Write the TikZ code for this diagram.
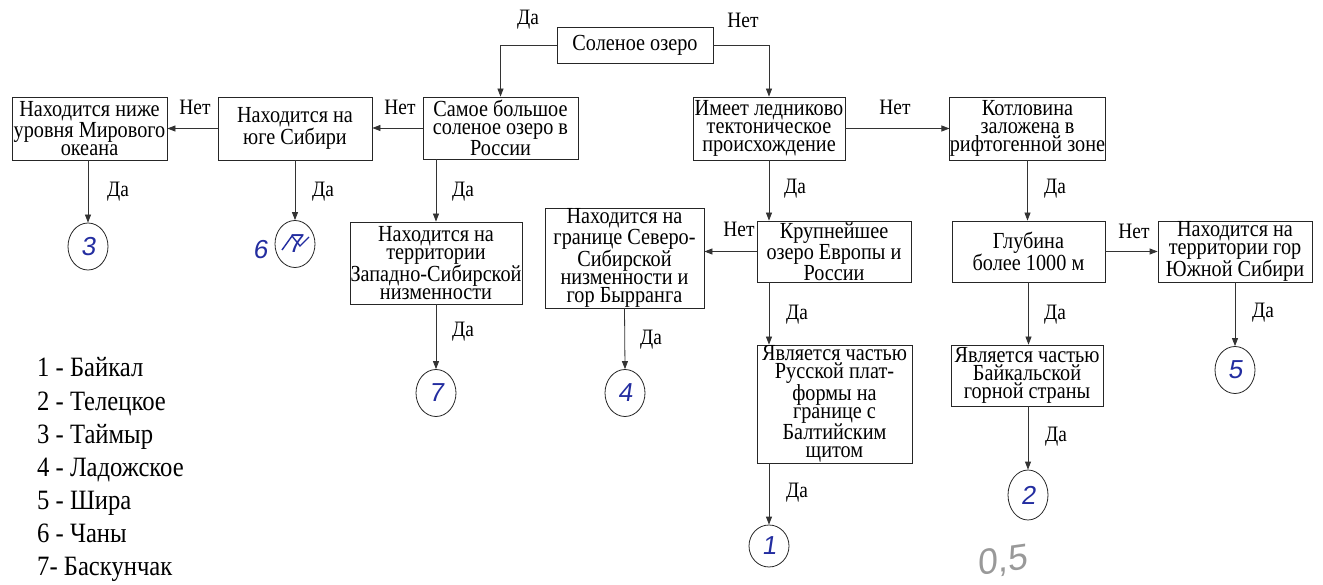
\documentclass[tikz,border=0pt]{standalone}
\usepackage{fontspec}
\setmainfont[FakeStretch=0.88]{Liberation Serif}
\newfontfamily\handfont[FakeSlant=0.15]{Liberation Sans}
\usetikzlibrary{arrows.meta,shapes.geometric}
\definecolor{ink}{RGB}{35,45,160}
\tikzset{
  box/.style={draw=black!85, line width=0.8pt, align=center, inner sep=0pt,
    font=\rmfamily\fontsize{23}{18}\selectfont},
  arr/.style={draw=black!80, line width=0.8pt, -{Triangle[length=8pt,width=6pt]}},
  lbl/.style={font=\rmfamily\fontsize{22}{22}\selectfont, inner sep=0pt},
  circ/.style={ellipse, draw=black!85, line width=0.8pt, minimum width=40pt,
    minimum height=47pt, inner sep=0pt, text=ink, font=\handfont\fontsize{26}{26}\selectfont},
  leg/.style={anchor=base west, inner sep=0pt, font=\rmfamily\fontsize{28}{28}\selectfont}
}
\begin{document}
\begin{tikzpicture}[x=1pt,y=-1pt]
\useasboundingbox (0,0) rectangle (1323,585);
% boxes
\node[box, minimum width=156pt, minimum height=36pt] (salt) at (635,45) {Соленое озеро};
\node[box, minimum width=155pt, minimum height=62pt] (big) at (500.5,128) {Самое большое\\соленое озеро в\\России};
\node[box, minimum width=154pt, minimum height=63pt] (south) at (295,128.5) {Находится на\\юге Сибири};
\node[box, minimum width=155pt, minimum height=63pt] (below) at (89.5,128.5) {Находится ниже\\уровня Мирового\\океана};
\node[box, minimum width=152pt, minimum height=63pt] (glac) at (769,128.5) {Имеет ледниково\\тектоническое\\происхождение};
\node[box, minimum width=155pt, minimum height=63pt] (kotl) at (1027.5,128.5) {Котловина\\заложена в\\рифтогенной зоне};
\node[box, minimum width=172pt, minimum height=82pt] (west) at (436,263) {Находится на\\территории\\Западно-Сибирской\\низменности};
\node[box, minimum width=159pt, minimum height=100pt] (byrr) at (624.5,258) {Находится на\\границе Северо-\\Сибирской\\низменности и\\гор Бырранга};
\node[box, minimum width=154pt, minimum height=61pt] (krup) at (834,251.5) {Крупнейшее\\озеро Европы и\\России};
\node[box, minimum width=153pt, minimum height=61pt] (depth) at (1028.5,251.5) {Глубина\\более 1000 м};
\node[box, minimum width=154pt, minimum height=61pt] (ssib) at (1235,251.5) {Находится на\\территории гор\\Южной Сибири};
\node[box, minimum width=155pt, minimum height=118pt] (rus) at (834.5,404) {Является частью\\Русской плат-\\формы на\\границе с\\Балтийским\\щитом};
\node[box, minimum width=152pt, minimum height=61pt] (baik) at (1027,375.5) {Является частью\\Байкальской\\горной страны};
% answer circles
\node[circ] (c3) at (88,246.5) {3};
\node[circ] (c6) at (295,244) {7};
\node[circ] (c7) at (436,393) {7};
\node[circ] (c4) at (625,393) {4};
\node[circ, minimum height=42pt] (c1) at (769,546) {1};
\node[circ, minimum height=50pt] (c2) at (1028,495) {2};
\node[circ] (c5) at (1235,370) {5};
\node[text=ink, font=\handfont\fontsize{26}{26}\selectfont, inner sep=0pt] (six) at (260,250) {6};
\draw[ink, line width=1.4pt] (282,250) -- (292,236) -- (300,246) -- (309,237);
% connectors
\draw[arr] (salt.west) -| (big.north);
\draw[arr] (salt.east) -| (glac.north);
\draw[arr] (big.west) -- (big.west -| south.east);
\draw[arr] (south.west) -- (south.west -| below.east);
\draw[arr] (c3 |- below.south) -- (c3.north);
\draw[arr] (c6 |- south.south) -- (c6.north);
\draw[arr] (big.south -| west.north) -- (west.north);
\draw[arr] (west.south) -- (c7.north);
\draw[arr] (glac.east) -- (glac.east -| kotl.west);
\draw[arr] (glac.south) -- (glac.south |- krup.north);
\draw[arr] (kotl.south) -- (kotl.south |- depth.north);
\draw[arr] (krup.west) -- (krup.west -| byrr.east);
\draw[arr] (byrr.south) -- (c4.north);
\draw[arr] (krup.south -| glac.south) -- (glac.south |- rus.north);
\draw[arr] (c1 |- rus.south) -- (c1.north);
\draw[arr] (depth.east) -- (depth.east -| ssib.west);
\draw[arr] (depth.south) -- (depth.south |- baik.north);
\draw[arr] (c2 |- baik.south) -- (c2.north);
\draw[arr] (ssib.south) -- (c5.north);
% labels
\node[lbl] (l1) at (528,20) {Да};
\node[lbl] (l2) at (743,20) {Нет};
\node[lbl] (l3) at (400,107) {Нет};
\node[lbl] (l4) at (195,107) {Нет};
\node[lbl] (l5) at (118,192) {Да};
\node[lbl] (l6) at (323,192) {Да};
\node[lbl] (l7) at (463,192) {Да};
\node[lbl] (l8) at (463,332) {Да};
\node[lbl] (l9) at (651,340) {Да};
\node[lbl] (l10) at (739,229) {Нет};
\node[lbl] (l11) at (895,107) {Нет};
\node[lbl] (l12) at (795,189) {Да};
\node[lbl] (l13) at (1055,189) {Да};
\node[lbl] (l14) at (797,315) {Да};
\node[lbl] (l15) at (1134,231) {Нет};
\node[lbl] (l16) at (1055,315) {Да};
\node[lbl] (l17) at (1263,313) {Да};
\node[lbl] (l18) at (797,493) {Да};
\node[lbl] (l19) at (1056,437) {Да};
% legend
\node[leg] (g1) at (37,377) {1 - Байкал};
\node[leg] (g2) at (37,410) {2 - Телецкое};
\node[leg] (g3) at (37,443) {3 - Таймыр};
\node[leg] (g4) at (37,476) {4 - Ладожское};
\node[leg] (g5) at (37,509) {5 - Шира};
\node[leg] (g6) at (37,542) {6 - Чаны};
\node[leg] (g7) at (37,575) {7- Баскунчак};
% pencil mark
\node[text=black!40, font=\handfont\fontsize{36}{36}\selectfont, inner sep=0pt, rotate=8] (mark) at (1002,562) {0,5};
\end{tikzpicture}
\end{document}
